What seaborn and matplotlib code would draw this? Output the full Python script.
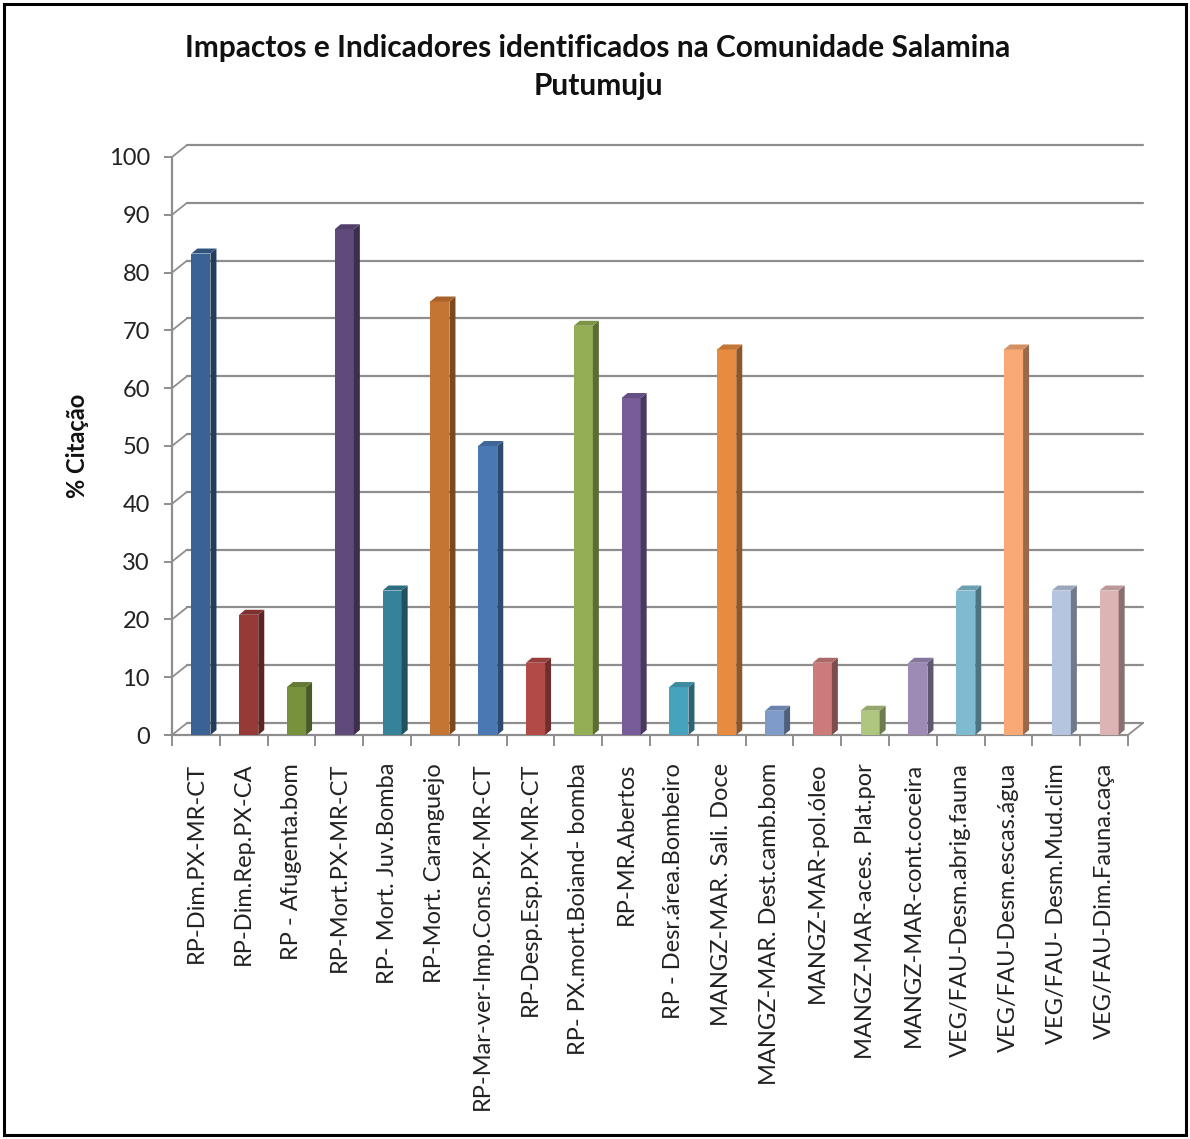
import matplotlib
matplotlib.use("Agg")
import matplotlib.pyplot as plt
import seaborn as sns
import pandas as pd
import numpy as np
from matplotlib.patches import Polygon, Rectangle
from matplotlib.lines import Line2D
import matplotlib.colors as mcolors

categories = [
    "RP-Dim.PX-MR-CT", "RP-Dim.Rep.PX-CA", "RP - Afugenta.bom", "RP-Mort.PX-MR-CT",
    "RP- Mort. Juv.Bomba", "RP-Mort. Caranguejo", "RP-Mar-ver-Imp.Cons.PX-MR-CT",
    "RP-Desp.Esp.PX-MR-CT", "RP- PX.mort.Boiand- bomba", "RP-MR.Abertos",
    "RP - Desr.área.Bombeiro", "MANGZ-MAR. Sali. Doce", "MANGZ-MAR. Dest.camb.bom",
    "MANGZ-MAR-pol.óleo", "MANGZ-MAR-aces. Plat.por", "MANGZ-MAR-cont.coceira",
    "VEG/FAU-Desm.abrig.fauna", "VEG/FAU-Desm.escas.água", "VEG/FAU- Desm.Mud.clim",
    "VEG/FAU-Dim.Fauna.caça",
]
values = [83.3, 20.8, 8.3, 87.5, 25.0, 75.0, 50.0, 12.5, 70.8, 58.3,
          8.3, 66.7, 4.2, 12.5, 4.2, 12.5, 25.0, 66.7, 25.0, 25.0]
colors = ["#3B6294", "#953A37", "#77913D", "#604A7B", "#35829A", "#C47533",
          "#4A78B2", "#B24A48", "#93AE54", "#775C99", "#46A3BD", "#E68B40",
          "#7E9BC9", "#CC7B7A", "#AFC67F", "#9D8AB5", "#7EBBD0", "#F8A976",
          "#B5C5DF", "#DDB3B3"]
yticks = [0, 10, 20, 30, 40, 50, 60, 70, 80, 90, 100]
title = "Impactos e Indicadores identificados na Comunidade Salamina\nPutumuju"
ylabel = "% Citação"

FONT = ["Lato", "DejaVu Sans"]
sns.set_theme(style="white")
plt.rcParams["font.family"] = FONT

W, H = 1190, 1139
fig = plt.figure(figsize=(W / 100, H / 100), dpi=100)
L, R, B, T = 172, 1128, 735, 157
ax = fig.add_axes([L / W, (H - B) / H, (R - L) / W, (B - T) / H])

df = pd.DataFrame({"cat": categories, "val": values})
sns.barplot(data=df, x="cat", y="val", hue="cat", palette=colors, legend=False,
            width=0.4, saturation=1, ax=ax, zorder=3)
ax.set_xlim(-0.5, len(categories) - 0.5)
ax.set_ylim(0, 100)

px_x = (R - L) / len(categories)   # px per category
px_y = (B - T) / 100.0             # px per unit
GX, GY = 15 / px_x, 12 / px_y      # back-wall offset in data units
DX, DY = 6 / px_x, 5 / px_y        # bar depth
SH = 5 / px_x                      # bar shift

grid_c = "#8E8E8E"
xl, xr = -0.5, len(categories) - 0.5
for y in yticks:
    ax.add_line(Line2D([xl + GX, xr + GX], [y + GY, y + GY], color=grid_c, lw=1.6,
                       clip_on=False, zorder=1))
    ax.add_line(Line2D([xl, xl + GX], [y, y + GY], color=grid_c, lw=1.3,
                       clip_on=False, zorder=1))
ax.add_line(Line2D([xl, xl], [0, 100], color=grid_c, lw=1.6, clip_on=False, zorder=2))
ax.add_line(Line2D([xl, xr], [0, 0], color=grid_c, lw=1.6, clip_on=False, zorder=2))
ax.add_line(Line2D([xr, xr + GX], [0, GY], color=grid_c, lw=1.3, clip_on=False, zorder=2))

for p, c in zip(ax.patches, colors):
    p.set_x(p.get_x() + SH)
    x0, w, h = p.get_x(), p.get_width(), p.get_height()
    p.set_edgecolor("none")
    rgb = np.array(mcolors.to_rgb(c))
    side = tuple(rgb * 0.62)
    top = tuple(rgb * 0.85)
    ax.add_patch(Polygon([(x0 + w, 0), (x0 + w, h), (x0 + w + DX, h + DY), (x0 + w + DX, DY)],
                         closed=True, facecolor=side, edgecolor="none", zorder=3,
                         clip_on=False))
    ax.add_patch(Polygon([(x0, h), (x0 + w, h), (x0 + w + DX, h + DY), (x0 + DX, h + DY)],
                         closed=True, facecolor=top, edgecolor="none", zorder=3,
                         clip_on=False))

for s in ax.spines.values():
    s.set_visible(False)

ax.set_yticks(yticks)
ax.set_yticklabels([str(v) for v in yticks], fontsize=17, color="#222222")
ax.tick_params(axis="y", left=True, length=6, width=1.4, color=grid_c, pad=10)
ax.set_xticks(range(len(categories)))
ax.set_xticklabels(categories, rotation=90, fontsize=17, color="#222222",
                   va="top", ha="center")
ax.set_xticks(np.arange(-0.5, len(categories)), minor=True)
ax.tick_params(axis="x", which="major", bottom=False, length=0, pad=20)
ax.tick_params(axis="x", which="minor", bottom=True, length=8, width=1.4, color=grid_c)
ax.set_xlabel("")
ax.set_ylabel(ylabel, fontsize=17, fontweight="bold", color="#111111", labelpad=14)
ax.grid(False)

fig.text(598 / W, 1 - 67 / H, title, ha="center", va="center", fontsize=21.5,
         fontweight="bold", color="#111111", linespacing=1.45)

fig.patches.append(Rectangle((4 / W, 4 / H), 1 - 8 / W, 1 - 8 / H,
                             transform=fig.transFigure, fill=False,
                             edgecolor="black", lw=2.2))

fig.savefig("out.png", dpi=100)
